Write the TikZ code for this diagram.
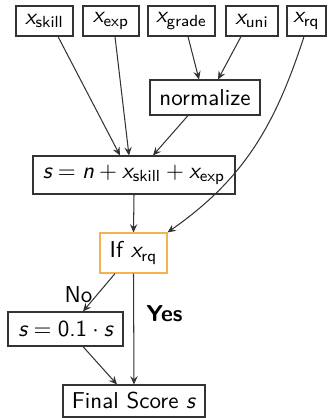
\documentclass[tikz,border=0pt]{standalone}
\usepackage{amsmath}
\usetikzlibrary{arrows.meta,calc}
\renewcommand{\familydefault}{\sfdefault}
\newcommand{\vx}{\textit{x}}
\newcommand{\vs}{\textit{s}}
\newcommand{\sub}[1]{_{\text{#1}}}
\definecolor{lineg}{HTML}{333333}
\definecolor{orng}{RGB}{245,178,82}
\begin{document}
\begin{tikzpicture}[x=0.435pt,y=-0.435pt,
  box/.style={draw=lineg, line width=0.5pt, inner sep=1pt, font=\sffamily, text=black},
  arr/.style={-{Stealth[length=3.6pt,width=3.2pt,inset=1.3pt]}, draw=lineg, line width=0.45pt}]
\useasboundingbox (0,0) rectangle (330,418);
\node[box, minimum width=24.8pt, minimum height=13.05pt] (skill) at (44.5,21) {$\vx\sub{skill}$};
\node[box, minimum width=24.4pt, minimum height=13.05pt] (exp) at (111,21) {$\vx\sub{exp}$};
\node[box, minimum width=29.1pt, minimum height=13.05pt] (grade) at (181.5,21) {$\vx\sub{grade}$};
\node[box, minimum width=22.6pt, minimum height=13.05pt] (uni) at (252,21) {$\vx\sub{uni}$};
\node[box, minimum width=17pt, minimum height=13.05pt] (rq) at (306.5,21) {$\vx\sub{rq}$};
\node[box, minimum width=47.9pt, minimum height=15.2pt] (norm) at (205,97.5) {normalize};
\node[box, minimum width=87.9pt, minimum height=16.5pt] (sbox) at (134,175) {$\vs=\textit{n}+\vx\sub{skill}+\vx\sub{exp}$};
\node[box, draw=orng, minimum width=29.1pt, minimum height=17.4pt] (ifx) at (133.5,253) {If $\vx\sub{rq}$};
\node[box, minimum width=50pt, minimum height=14.8pt] (scaled) at (65.5,329) {$\vs=\text{0.1}\cdot\vs$};
\node[box, minimum width=61.8pt, minimum height=13.9pt] (final) at (134,401) {Final Score \vs};

\draw[arr] ($(skill.south)+(13.5,0)$) -- ($(sbox.north)+(-14,0)$);
\draw[arr] ($(exp.south)+(4,0)$) -- ($(sbox.north)+(-5,0)$);
\draw[arr] ($(norm.south)+(-17,0)$) -- ($(sbox.north)+(19,0)$);
\draw[arr] ($(grade.south)+(6.5,0)$) -- ($(norm.north)+(-6,0)$);
\draw[arr] ($(uni.south)+(-11,0)$) -- ($(norm.north)+(13,0)$);
\draw[arr] ($(rq.south)+(-2.5,0)$) to[out=-108, in=35] (ifx.north east);
\draw[arr] (sbox.south) -- (ifx.north);
\draw[arr] ($(ifx.south)+(-18.5,0)$) -- node[pos=0.55, left, inner sep=2pt] {No} ($(scaled.north)+(17.5,0)$);
\draw[arr] (ifx.south) -- node[pos=0.36, right, xshift=2pt] {\bfseries Yes} (final.north);
\draw[arr] ($(scaled.south)+(17.5,0)$) -- ($(final.north)+(-17,0)$);
\end{tikzpicture}
\end{document}
